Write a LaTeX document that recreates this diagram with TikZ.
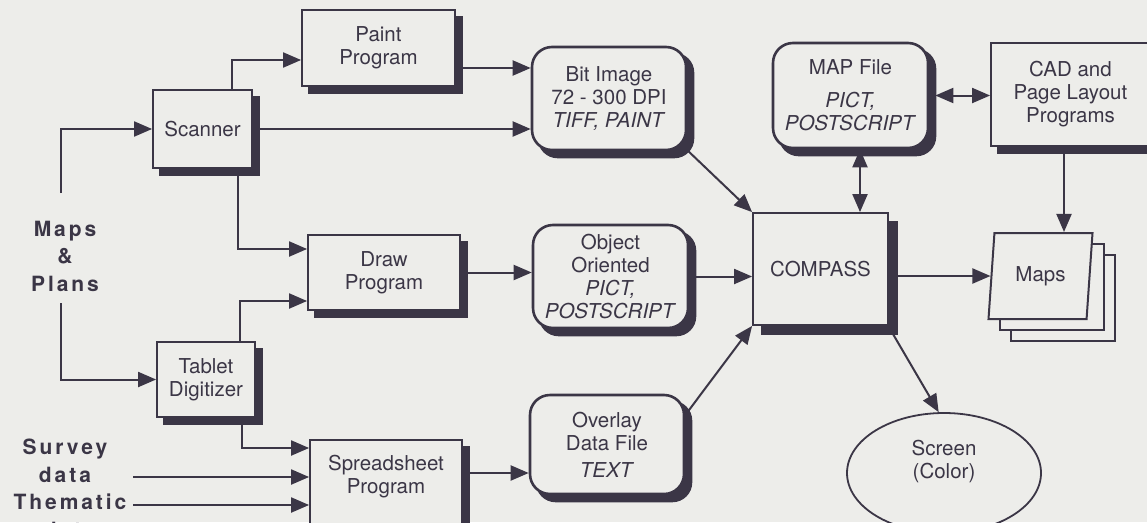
\documentclass[tikz,border=0pt]{standalone}
\usepackage{fontspec}
\setmainfont{TeX Gyre Heros}
\newfontfamily\labelfont[LetterSpace=14]{TeX Gyre Heros}
\usetikzlibrary{arrows.meta,positioning,shapes.geometric}
\definecolor{ink}{HTML}{3B3646}
\definecolor{paper}{HTML}{EDEDEA}
\pgfdeclarelayer{paperlayer}
\pgfdeclarelayer{shadowlayer}
\pgfsetlayers{paperlayer,shadowlayer,main}

\begin{document}
\begin{tikzpicture}[
  x=1pt,y=-1pt,
  >={Triangle[length=18pt,width=15pt]},
  every node/.style={font=\fontsize{20.5}{23}\selectfont,text=ink},
  box/.style={rectangle,draw=ink,line width=1.8pt,fill=paper,align=center,inner sep=0},
  rbox/.style={rectangle,rounded corners=20pt,draw=ink,line width=2.6pt,fill=paper,align=center,inner sep=0},
  sheet/.style={trapezium,trapezium left angle=73,trapezium right angle=107,trapezium stretches body,
    minimum width=104pt,minimum height=86pt,inner sep=0,draw=ink,line width=2pt,fill=paper},
  src/.style={align=center,font=\labelfont\bfseries\fontsize{21}{27.5}\selectfont},
  flow/.style={->,draw=ink,line width=2pt},
  both/.style={<->,draw=ink,line width=2pt},
]
  \useasboundingbox (0,0) rectangle (1147,522);
  \begin{pgfonlayer}{paperlayer}
    \fill[paper] (0,0) rectangle (1147,522);
  \end{pgfonlayer}

  % sources
  \node[src] (mapsplans) at (65,256) {Maps\\\&\\Plans};
  \node[src] (survey) at (65,461) {Survey\\data};
  \node[src] (thematic) at (70,516) {Thematic\\data};
  \coordinate (mp-up) at (61,193);
  \coordinate (mp-down) at (61,303);
  \coordinate (sv) at (133,477);
  \coordinate (th) at (133,505);

  % input devices and programs
  \node[box,minimum width=99pt,minimum height=78pt] (scanner) at (202.5,129) {Scanner};
  \node[box,minimum width=98pt,minimum height=75pt] (tablet) at (206,379.5) {Tablet\\Digitizer};
  \node[box,minimum width=153pt,minimum height=76pt] (paint) at (378.5,48) {Paint\\Program};
  \node[box,minimum width=152pt,minimum height=75pt] (draw) at (384,272.5) {Draw\\Program};
  \node[box,minimum width=152pt,minimum height=105pt] (spread) at (386,492.5) {};
  \node (spreadtxt) at (386,476.5) [align=center] {Spreadsheet\\Program};

  % files
  \node[rbox,minimum width=154pt,minimum height=103pt] (bit) at (609,98.5)
    {Bit Image\\72 - 300 DPI\\\textit{TIFF, PAINT}};
  \node[rbox,minimum width=155pt,minimum height=103pt] (object) at (610.5,276.5)
    {Object\\Oriented\\\textit{PICT,}\\\textit{POSTSCRIPT}};
  \node[rbox,minimum width=154pt,minimum height=99pt] (overlay) at (607,444.5)
    {Overlay\\Data File\\[4pt]\textit{TEXT}};
  \node[rbox,minimum width=155pt,minimum height=105pt] (mapfile) at (850.5,95.5)
    {MAP File\\[10pt]\textit{PICT,}\\\textit{POSTSCRIPT}};

  % outputs
  \node[box,minimum width=135pt,minimum height=112pt] (compass) at (820.5,269) {COMPASS};
  \node[box,minimum width=159pt,minimum height=103pt] (cad) at (1070.5,94.5) {CAD and\\Page Layout\\Programs};
  \node[sheet] (maps3) at (1062.5,298) {};
  \node[sheet] (maps2) at (1051.5,287) {};
  \node[sheet] (maps) at (1040.5,276) {Maps};
  \node[ellipse,draw=ink,line width=1.8pt,minimum width=194pt,minimum height=120pt] (screen) at (944,473) {};
  \node (screentxt) at (944,462) [align=center] {Screen\\(Color)};

  % drop shadows
  \begin{pgfonlayer}{shadowlayer}
    \foreach \n/\s in {scanner/7,tablet/7,paint/7,draw/7,spread/7,cad/7,compass/9}
      \fill[ink] ([shift={(\s pt,-\s pt)}]\n.south west) rectangle ([shift={(\s pt,-\s pt)}]\n.north east);
    \foreach \n in {bit,object,overlay,mapfile}
      \fill[ink,rounded corners=20pt] ([shift={(7pt,-7pt)}]\n.south west) rectangle ([shift={(7pt,-7pt)}]\n.north east);
  \end{pgfonlayer}

  % connectors
  \draw[flow] (mp-up) |- (scanner.west);
  \draw[flow] (mp-down) |- (tablet.west);
  \draw[flow] ([xshift=29.5pt]scanner.north) |- ([yshift=-12pt]paint.west);
  \draw[flow] ([xshift=6pt]scanner.east) -- (scanner.east -| bit.west);
  \draw[flow] ([shift={(6pt,-20pt)}]paint.east) -- ([yshift=-20pt]paint.east -| bit.west);
  \draw[flow] ([xshift=35.5pt]scanner.south) |- ([yshift=23.5pt]draw.west);
  \draw[flow] ([xshift=34pt]tablet.north) |- ([yshift=-28.5pt]draw.west);
  \draw[flow] ([shift={(36pt,-6pt)}]tablet.south) |- ([yshift=44.5pt]spread.west);
  \draw[flow] (sv) -- (sv -| spread.west);
  \draw[flow] (th) -- (th -| spread.west);
  \draw[flow] ([shift={(6pt,19.5pt)}]spread.east) -- ([yshift=19.5pt]spread.east -| overlay.west);
  \draw[flow] ([xshift=6pt]draw.east) -- (draw.east -| object.west);
  \draw[flow] ([xshift=6pt]object.east) -- (object.east -| compass.west);
  \draw[flow] ([shift={(-2pt,3pt)}]bit.south east) -- (compass.north west);
  \draw[flow] ([yshift=29.5pt]overlay.east) -- (compass.south west);
  \draw[flow] ([shift={(4pt,-8pt)}]compass.south east) -- (screen.95);
  \draw[flow] ([xshift=8pt]compass.east |- maps.west) -- (maps.west);
  \draw[both] ([xshift=9.5pt]mapfile.south) -- ([xshift=9.5pt]mapfile.south |- compass.north);
  \draw[both] ([xshift=6pt]mapfile.east) -- (mapfile.east -| cad.west);
  \draw[flow] ([xshift=-6.5pt]cad.south) -- ([xshift=-6.5pt]cad.south |- maps.north);
\end{tikzpicture}
\end{document}
